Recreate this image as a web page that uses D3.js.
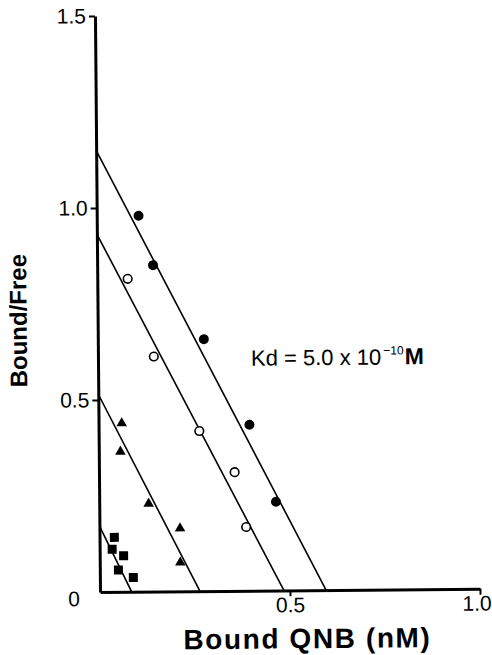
<!DOCTYPE html>
<html>
<head>
<meta charset="utf-8">
<script src="https://cdn.jsdelivr.net/npm/d3@7/dist/d3.min.js"></script>
<style>
  body { margin: 0; background: #fff; }
  svg text { font-family: "Liberation Sans", Arial, Helvetica, sans-serif; fill: #000; }
</style>
</head>
<body>
<div id="vis"></div>
<script>
// Scatchard plot values (Bound QNB nM, Bound/Free)
var filledX = [0.110, 0.147, 0.279, 0.397, 0.465];
var filledY = [0.979, 0.850, 0.656, 0.432, 0.231];
var openX = [0.080, 0.147, 0.265, 0.357, 0.386];
var openY = [0.815, 0.612, 0.417, 0.309, 0.166];
var triX = [0.061, 0.057, 0.130, 0.212, 0.212];
var triY = [0.439, 0.365, 0.229, 0.164, 0.075];
var sqX = [0.039, 0.033, 0.063, 0.049, 0.088];
var sqY = [0.142, 0.111, 0.094, 0.057, 0.037];

// regression lines: y-intercept (Bound/Free) and x-intercept (Bmax)
var lineYInt = [1.15, 0.932, 0.515, 0.172];
var lineXInt = [0.595, 0.484, 0.263, 0.083];

var xTicks = [0.5, 1.0];
var yTicks = [0.5, 1.0, 1.5];
var xTickLabels = ['0.5', '1.0'];
var yTickLabels = ['0.5', '1.0', '1.5'];
var originLabel = '0';
var xTitle = 'Bound QNB (nM)';
var yTitle = 'Bound/Free';
var kdText = ['Kd = 5.0 x 10', '\u221210', 'M'];

var width = 492;
var height = 655;
var x0 = 100, x1 = 480, y0 = 592, y1 = 16;

var svg = d3.select('#vis').append('svg')
  .attr('width', width)
  .attr('height', height);

// scanned page is slightly tilted
var g = svg.append('g')
  .attr('transform', 'rotate(-0.5,' + x0 + ',' + y0 + ')');

var x = d3.scaleLinear().domain([0, 1]).range([x0, x1]);
var y = d3.scaleLinear().domain([0, 1.5]).range([y0, y1]);

// axes
var xAxis = d3.axisBottom(x)
  .tickValues(xTicks)
  .tickFormat(function (d, i) { return xTickLabels[i]; })
  .tickSizeInner(6)
  .tickSizeOuter(0)
  .tickPadding(1);

var yAxis = d3.axisLeft(y)
  .tickValues(yTicks)
  .tickFormat(function (d, i) { return yTickLabels[i]; })
  .tickSizeInner(6)
  .tickSizeOuter(0)
  .tickPadding(3);

var gx = g.append('g')
  .attr('transform', 'translate(0,' + y0 + ')')
  .call(xAxis);
gx.select('.domain').attr('stroke-width', 3);
gx.selectAll('.tick line').attr('stroke-width', 2);
gx.selectAll('.tick text')
  .attr('font-size', 21);
// last label sits against the right edge
gx.selectAll('.tick text')
  .filter(function (d) { return d === 1.0; })
  .attr('text-anchor', 'end')
  .attr('x', 11);

var gy = g.append('g')
  .attr('transform', 'translate(' + x0 + ',0)')
  .call(yAxis);
gy.select('.domain').attr('stroke-width', 3);
gy.selectAll('.tick line').attr('stroke-width', 2);
gy.selectAll('.tick text')
  .attr('font-size', 21);
svg.selectAll('.domain, .tick line').attr('stroke', '#000');
svg.selectAll('g[font-family]').attr('font-family', null);

g.append('text')
  .attr('x', x0 - 26)
  .attr('y', y0 + 14)
  .attr('text-anchor', 'middle')
  .attr('font-size', 21)
  .text(originLabel);

// regression lines
var lines = lineYInt.map(function (b, i) {
  return [[0, b], [lineXInt[i], 0]];
});
var lineGen = d3.line()
  .x(function (d) { return x(d[0]); })
  .y(function (d) { return y(d[1]); });

g.selectAll('.fit')
  .data(lines)
  .enter()
  .append('path')
  .attr('class', 'fit')
  .attr('d', lineGen)
  .attr('fill', 'none')
  .attr('stroke', '#000')
  .attr('stroke-width', 1.6);

function zip(xs, ys) {
  return xs.map(function (v, i) { return [v, ys[i]]; });
}

// filled circles
g.selectAll('.filled')
  .data(zip(filledX, filledY))
  .enter()
  .append('circle')
  .attr('class', 'filled')
  .attr('cx', function (d) { return x(d[0]); })
  .attr('cy', function (d) { return y(d[1]); })
  .attr('r', 5)
  .attr('fill', '#000');

// open circles
g.selectAll('.open')
  .data(zip(openX, openY))
  .enter()
  .append('circle')
  .attr('class', 'open')
  .attr('cx', function (d) { return x(d[0]); })
  .attr('cy', function (d) { return y(d[1]); })
  .attr('r', 4.3)
  .attr('fill', '#fff')
  .attr('stroke', '#000')
  .attr('stroke-width', 1.6);

var triSym = d3.symbol().type(d3.symbolTriangle).size(48);
g.selectAll('.tri')
  .data(zip(triX, triY))
  .enter()
  .append('path')
  .attr('class', 'tri')
  .attr('d', triSym)
  .attr('transform', function (d) { return 'translate(' + x(d[0]) + ',' + y(d[1]) + ')'; })
  .attr('fill', '#000');

g.selectAll('.sq')
  .data(zip(sqX, sqY))
  .enter()
  .append('rect')
  .attr('class', 'sq')
  .attr('x', function (d) { return x(d[0]) - 4.5; })
  .attr('y', function (d) { return y(d[1]) - 4.5; })
  .attr('width', 9)
  .attr('height', 9)
  .attr('fill', '#000');

// Kd annotation
var kd = g.append('text')
  .attr('x', 253)
  .attr('y', 367)
  .attr('font-size', 22);
kd.append('tspan').text(kdText[0]);
kd.append('tspan')
  .attr('font-size', 12)
  .attr('dx', 2)
  .attr('dy', -10)
  .text(kdText[1]);
kd.append('tspan')
  .attr('dx', 1)
  .attr('dy', 10)
  .attr('font-size', 23)
  .attr('font-weight', 'bold')
  .text(kdText[2]);

// axis titles
g.append('text')
  .attr('x', 307)
  .attr('y', 650)
  .attr('text-anchor', 'middle')
  .attr('font-size', 28)
  .attr('font-weight', 'bold')
  .attr('letter-spacing', 1.6)
  .text(xTitle);

g.append('text')
  .attr('transform', 'translate(29,320) rotate(-90)')
  .attr('text-anchor', 'middle')
  .attr('font-size', 24)
  .attr('font-weight', 'bold')
  .text(yTitle);
</script>
</body>
</html>
